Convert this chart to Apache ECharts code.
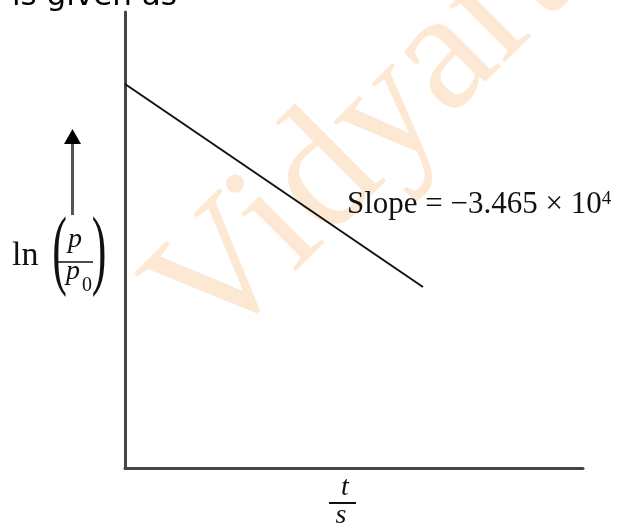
<!DOCTYPE html>
<html>
<head>
<meta charset="utf-8">
<script src="https://cdn.jsdelivr.net/npm/echarts@6/dist/echarts.min.js"></script>
<style>
  html, body { margin: 0; padding: 0; background: #ffffff; }
  #chart { width: 620px; height: 527px; }
</style>
</head>
<body>
<div id="chart"></div>
<script>
// Time (s) and ln(p/p0) at the two ends of the straight line
const timeValues = [0, 0.001];
const lnRatioValues = [0, -34.65];
// Axis ranges (no ticks are shown)
const timeRange = [0, 0.001537];
const lnRange = [-65.54, 12.29];
// Annotation
const slopeText = 'Slope = \u22123.465 \u00d7 10';
const slopeExponent = '4';

const seriesData = timeValues.map((t, i) => [t, lnRatioValues[i]]);

const serif = '"Liberation Serif", "Times New Roman", serif';
const chart = echarts.init(document.getElementById('chart'), null, { renderer: 'canvas' });

chart.setOption({
  animation: false,
  backgroundColor: '#ffffff',
  grid: { left: 125, right: 37, top: 12, bottom: 59, containLabel: false },
  xAxis: {
    type: 'value', min: timeRange[0], max: timeRange[1],
    axisLine: { show: true, onZero: false, lineStyle: { color: '#454545', width: 3 } },
    axisTick: { show: false }, axisLabel: { show: false }, splitLine: { show: false }
  },
  yAxis: {
    type: 'value', min: lnRange[0], max: lnRange[1],
    axisLine: { show: true, onZero: false, lineStyle: { color: '#454545', width: 3 } },
    axisTick: { show: false }, axisLabel: { show: false }, splitLine: { show: false }
  },
  series: [{
    type: 'line',
    data: seriesData,
    showSymbol: false,
    symbol: 'none',
    z: 5,
    lineStyle: { color: '#111111', width: 2 }
  }],
  graphic: [
    // watermark
    {
      type: 'text', x: 410, y: 93, rotation: 45 * Math.PI / 180, z: -10, silent: true,
      style: { text: 'Vidyarthi', font: '172px ' + serif, fill: '#fde8d3', align: 'center', verticalAlign: 'middle' }
    },
    // caption fragment above the plot
    {
      type: 'text', x: 12, y: -3, z: 10,
      style: { text: 'is given as', font: '31px "DejaVu Sans", sans-serif', fill: '#000000', align: 'left', verticalAlign: 'middle' }
    },
    // slope annotation
    {
      type: 'text', x: 347, y: 205, z: 10,
      style: {
        text: '{m|' + slopeText + '}{s|' + slopeExponent + '}',
        align: 'left', verticalAlign: 'middle',
        rich: {
          m: { fontFamily: serif, fontSize: 31, lineHeight: 31, fill: '#111111', color: '#111111' },
          s: { fontFamily: serif, fontSize: 19, lineHeight: 19, verticalAlign: 'top', fill: '#111111', color: '#111111' }
        }
      }
    },
    // y-axis label: ln(p/p0)
    {
      type: 'text', x: 12, y: 256.5, z: 10,
      style: { text: 'ln', font: '34px ' + serif, fill: '#111111', align: 'left', verticalAlign: 'middle' }
    },
    {
      type: 'text', x: 59.5, y: 254.5, scaleX: 0.5, z: 10,
      style: { text: '(', font: '88px ' + serif, fill: '#111111', align: 'center', verticalAlign: 'middle' }
    },
    {
      type: 'text', x: 99, y: 254.5, scaleX: 0.5, z: 10,
      style: { text: ')', font: '88px ' + serif, fill: '#111111', align: 'center', verticalAlign: 'middle' }
    },
    {
      type: 'text', x: 75, y: 239.5, z: 10,
      style: { text: 'p', font: 'italic 28px ' + serif, fill: '#111111', align: 'center', verticalAlign: 'middle' }
    },
    {
      type: 'line', z: 10,
      shape: { x1: 57, y1: 262, x2: 93, y2: 262 },
      style: { stroke: '#111111', lineWidth: 1.5 }
    },
    {
      type: 'text', x: 73, y: 271.5, z: 10,
      style: { text: 'p', font: 'italic 28px ' + serif, fill: '#111111', align: 'center', verticalAlign: 'middle' }
    },
    {
      type: 'text', x: 87, y: 286, z: 10,
      style: { text: '0', font: '20px ' + serif, fill: '#111111', align: 'center', verticalAlign: 'middle' }
    },
    // upward arrow beside the y label
    {
      type: 'line', z: 10,
      shape: { x1: 72.5, y1: 215, x2: 72.5, y2: 140 },
      style: { stroke: '#555555', lineWidth: 3 }
    },
    {
      type: 'polygon', z: 10,
      shape: { points: [[64, 144], [81, 144], [72.5, 129]] },
      style: { fill: '#000000' }
    },
    // x-axis label: t/s
    {
      type: 'text', x: 345, y: 487.5, z: 10,
      style: { text: 't', font: 'italic 28px ' + serif, fill: '#111111', align: 'center', verticalAlign: 'middle' }
    },
    {
      type: 'line', z: 10,
      shape: { x1: 329, y1: 503, x2: 356, y2: 503 },
      style: { stroke: '#111111', lineWidth: 2 }
    },
    {
      type: 'text', x: 341, y: 516, z: 10,
      style: { text: 's', font: 'italic 28px ' + serif, fill: '#111111', align: 'center', verticalAlign: 'middle' }
    }
  ]
});
</script>
</body>
</html>
